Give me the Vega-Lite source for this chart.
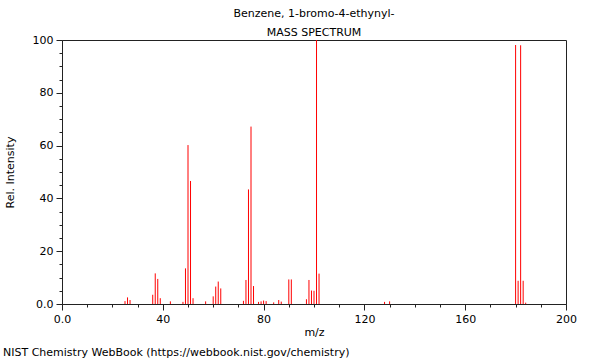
{
  "$schema": "https://vega.github.io/schema/vega-lite/v6.json",
  "width": 504,
  "height": 264,
  "autosize": {"type": "none"},
  "padding": {"left": 62, "top": 40, "right": 34, "bottom": 56},
  "background": "white",
  "config": {
    "font": "DejaVu Sans",
    "view": {"stroke": "#222", "strokeWidth": 1},
    "axis": {"domainColor": "#222", "tickColor": "#222", "labelColor": "#000", "titleColor": "#000", "labelFontSize": 11, "titleFontSize": 11, "titleFontWeight": "normal", "grid": false, "labelFont": "DejaVu Sans", "titleFont": "DejaVu Sans", "labelFlush": false, "labelOverlap": false}
  },
  "title": {
    "text": "Benzene, 1-bromo-4-ethynyl-",
    "subtitle": "MASS SPECTRUM",
    "fontSize": 11,
    "fontWeight": "normal",
    "subtitleFontSize": 11,
    "subtitleColor": "#000",
    "color": "#000",
    "font": "DejaVu Sans",
    "subtitleFont": "DejaVu Sans",
    "subtitlePadding": 8,
    "anchor": "middle",
    "offset": -4
  },
  "data": {
    "values": [
      {"mz": 25, "intensity": 1.1}, {"mz": 26, "intensity": 2.5}, {"mz": 27, "intensity": 1.5},
      {"mz": 36, "intensity": 3.5}, {"mz": 37, "intensity": 11.6}, {"mz": 38, "intensity": 9.5}, {"mz": 39, "intensity": 2.2},
      {"mz": 43, "intensity": 1.0}, {"mz": 48, "intensity": 0.8}, {"mz": 49, "intensity": 13.5}, {"mz": 50, "intensity": 60.2},
      {"mz": 51, "intensity": 46.6}, {"mz": 52, "intensity": 2.2}, {"mz": 57, "intensity": 1.0},
      {"mz": 60, "intensity": 2.9}, {"mz": 61, "intensity": 6.6}, {"mz": 62, "intensity": 8.5}, {"mz": 63, "intensity": 5.9},
      {"mz": 72, "intensity": 1.2}, {"mz": 73, "intensity": 9.1}, {"mz": 74, "intensity": 43.4}, {"mz": 75, "intensity": 67.2},
      {"mz": 76, "intensity": 6.8}, {"mz": 78, "intensity": 0.8}, {"mz": 79, "intensity": 1.0}, {"mz": 80, "intensity": 1.3},
      {"mz": 81, "intensity": 1.1}, {"mz": 84, "intensity": 0.6}, {"mz": 86, "intensity": 1.5}, {"mz": 87, "intensity": 0.9},
      {"mz": 90, "intensity": 9.3}, {"mz": 91, "intensity": 9.3}, {"mz": 97, "intensity": 1.8}, {"mz": 98, "intensity": 9.1},
      {"mz": 99, "intensity": 5.1}, {"mz": 100, "intensity": 5.0}, {"mz": 101, "intensity": 100}, {"mz": 102, "intensity": 11.5},
      {"mz": 128, "intensity": 0.8}, {"mz": 130, "intensity": 1.0},
      {"mz": 180, "intensity": 98.1}, {"mz": 181, "intensity": 8.8}, {"mz": 182, "intensity": 98.0}, {"mz": 183, "intensity": 8.8},
      {"mz": 184, "intensity": 0.5}
    ]
  },
  "layer": [
    {
      "mark": {"type": "rule", "color": "#ff0000", "strokeWidth": 1},
      "encoding": {
        "x": {"field": "mz", "type": "quantitative", "scale": {"domain": [0, 200], "nice": false},
          "axis": {"orient": "bottom", "values": [0, 40, 80, 120, 160, 200], "format": "d", "labelExpr": "datum.value == 0 ? '0.0' : datum.label", "tickSize": 6, "title": "m/z", "titleY": 28, "titleBaseline": "middle", "labelPadding": 3}},
        "y": {"field": "intensity", "type": "quantitative", "scale": {"domain": [0, 100], "nice": false},
          "axis": {"orient": "left", "values": [0, 20, 40, 60, 80, 100], "format": "d", "labelExpr": "datum.value == 0 ? '0.0' : datum.label", "tickSize": 6, "title": "Rel. Intensity", "titlePadding": 17, "labelPadding": 3}},
        "y2": {"datum": 0}
      }
    },
    {
      "mark": {"type": "rule", "opacity": 0},
      "encoding": {
        "x": {"field": "mz", "type": "quantitative",
          "axis": {"orient": "bottom", "values": [10, 20, 30, 50, 60, 70, 90, 100, 110, 130, 140, 150, 170, 180, 190], "labels": false, "tickSize": 3, "title": null, "domain": false}},
        "y": {"field": "intensity", "type": "quantitative",
          "axis": {"orient": "left", "values": [5, 10, 15, 25, 30, 35, 45, 50, 55, 65, 70, 75, 85, 90, 95], "labels": false, "tickSize": 3, "title": null, "domain": false}}
      }
    },
    {
      "mark": {"type": "text", "text": "NIST Chemistry WebBook (https://webbook.nist.gov/chemistry)", "align": "left", "baseline": "middle", "fontSize": 11, "font": "DejaVu Sans", "color": "#000"},
      "data": {"values": [{}]},
      "encoding": {"x": {"value": -59}, "y": {"value": 313}}
    }
  ],
  "resolve": {"axis": {"x": "independent", "y": "independent"}}
}
